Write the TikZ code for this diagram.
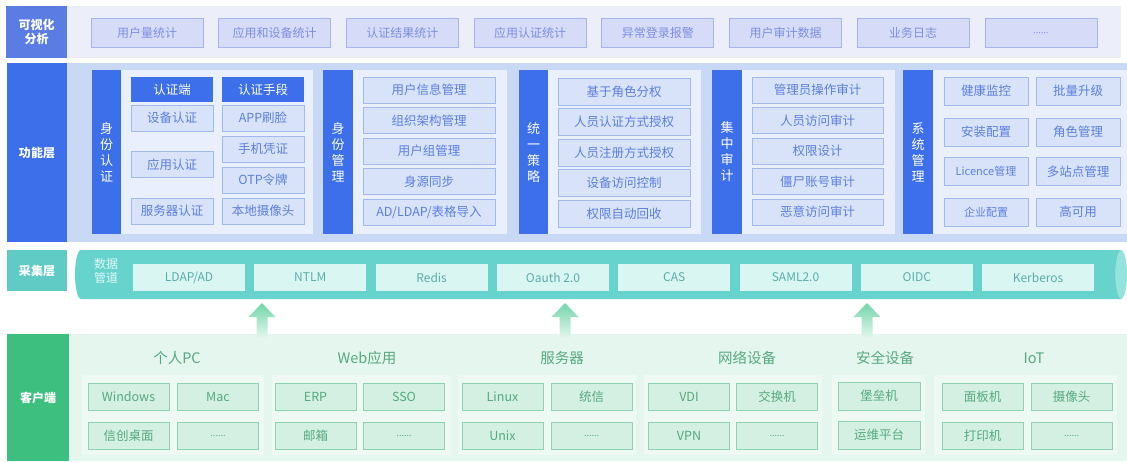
\documentclass[tikz,border=0pt]{standalone}
\usepackage{fontspec}
\setmainfont{Noto Sans CJK SC}
\definecolor{topbg}{HTML}{ECEEF9}
\definecolor{toplab}{HTML}{5B7CE3}
\definecolor{topfill}{HTML}{D6DCF8}
\definecolor{topline}{HTML}{AAB4EC}
\definecolor{toptext}{HTML}{7D8DE0}
\definecolor{fnband}{HTML}{C9D8F5}
\definecolor{fnblue}{HTML}{3D6FEA}
\definecolor{fnpanel}{HTML}{E9EFFC}
\definecolor{fnfill}{HTML}{D8E3FA}
\definecolor{fnline}{HTML}{A2B9EE}
\definecolor{fntext}{HTML}{5B7FDC}
\definecolor{colab}{HTML}{5FCBC4}
\definecolor{pipe}{HTML}{66D4CD}
\definecolor{pipecap}{HTML}{95E3DD}
\definecolor{pipefill}{HTML}{D9F6F3}
\definecolor{pipetext}{HTML}{5AAEA8}
\definecolor{pipelab}{HTML}{E2F8F6}
\definecolor{cllab}{HTML}{3CBF7F}
\definecolor{clband}{HTML}{E5F6EE}
\definecolor{clpanel}{HTML}{EEF9F4}
\definecolor{clfill}{HTML}{D4F0E2}
\definecolor{clline}{HTML}{8FD2B1}
\definecolor{cltext}{HTML}{55A97F}
\definecolor{arrowtop}{HTML}{72D6AA}
\tikzset{
  base/.style={inner sep=0pt, outer sep=0pt, align=center},
  sz/.style 2 args={minimum width=#1pt, minimum height=#2pt},
  lab/.style={base, text=white, font=\bfseries\fontsize{12}{14.5}\selectfont},
  topitem/.style={base, fill=topfill, draw=topline, line width=0.8pt, text=toptext,
    font=\fontsize{12}{14}\selectfont, sz={112}{29}},
  fnbar/.style={base, fill=fnblue, text=white, font=\fontsize{13}{16}\selectfont},
  fnpan/.style={base, fill=fnpanel},
  fnhdr/.style={base, fill=fnblue, text=white, font=\fontsize{12.5}{14}\selectfont},
  fnitem/.style={base, fill=fnfill, draw=fnline, line width=0.8pt, text=fntext,
    font=\fontsize{12.5}{14}\selectfont},
  pipeitem/.style={base, fill=pipefill, text=pipetext, font=\fontsize{12}{14}\selectfont, sz={112}{27}},
  clpan/.style={base, fill=clpanel},
  cltitle/.style={base, text=cltext, font=\fontsize{14.5}{16}\selectfont},
  clitem/.style={base, fill=clfill, draw=clline, line width=0.8pt, text=cltext,
    font=\fontsize{12.5}{14}\selectfont, sz={81}{27}},
}
\newcommand{\mydots}{{\fontsize{9}{10}\selectfont ......}}
\begin{document}
\begin{tikzpicture}[x=1pt,y=-1pt]
\useasboundingbox (0,0) rectangle (1127,461);
\fill[white] (0,0) rectangle (1127,461);

% ---------- top layer
\node[base, fill=topbg, sz={1054}{52}] (topband) at (594,32) {};
\node[lab, fill=toplab, sz={61}{52}] (toplabel) at (36.5,32) {可视化\\分析};
\foreach \t [count=\i] in {用户量统计,应用和设备统计,认证结果统计,应用认证统计,异常登录报警,用户审计数据,业务日志}
  \node[topitem] (t\i) at ({147+(\i-1)*127.7},33) {\t};
\node[topitem] (t8) at (1040.9,33) {\mydots};

% ---------- function layer
\node[base, fill=fnband, sz={1060}{179}] (fnband) at (597,152.5) {};
\node[lab, fill=fnblue, sz={60}{179}] (fnlabel) at (37,152.5) {功能层};

% group 1
\node[fnbar, sz={29}{164}] (g1bar) at (106.5,152) {身\\份\\认\\证};
\node[fnpan, sz={192}{164}] (g1pan) at (217,152) {};
\node[fnhdr, sz={82}{25}] (h1) at (172,89.5) {认证端};
\node[fnhdr, sz={82}{25}] (h2) at (263,89.5) {认证手段};
\node[fnitem, sz={82}{26}] (a1) at (172,118) {设备认证};
\node[fnitem, sz={82}{26}] (a2) at (172,164.5) {应用认证};
\node[fnitem, sz={82}{26}] (a3) at (172,211) {服务器认证};
\node[fnitem, sz={82}{26}] (b1) at (263,118) {APP刷脸};
\node[fnitem, sz={82}{26}] (b2) at (263,149) {手机凭证};
\node[fnitem, sz={82}{26}] (b3) at (263,180) {OTP令牌};
\node[fnitem, sz={82}{26}] (b4) at (263,211) {本地摄像头};

% group 2
\node[fnbar, sz={30}{164}] (g2bar) at (338,152) {身\\份\\管\\理};
\node[fnpan, sz={154}{164}] (g2pan) at (430,152) {};
\foreach \t [count=\i] in {用户信息管理,组织架构管理,用户组管理,身源同步,AD/LDAP/表格导入}
  \node[fnitem, sz={132}{26}] (m\i) at (429,{90+(\i-1)*30.5}) {\t};

% group 3
\node[fnbar, sz={29}{164}] (g3bar) at (533.5,152) {统\\一\\策\\略};
\node[fnpan, sz={153}{164}] (g3pan) at (624.5,152) {};
\foreach \t [count=\i] in {基于角色分权,人员认证方式授权,人员注册方式授权,设备访问控制,权限自动回收}
  \node[fnitem, sz={132}{27}] (p\i) at (624,{91.5+(\i-1)*30.5}) {\t};

% group 4
\node[fnbar, sz={30}{164}] (g4bar) at (727,152) {集\\中\\审\\计};
\node[fnpan, sz={153}{164}] (g4pan) at (818.5,152) {};
\foreach \t [count=\i] in {管理员操作审计,人员访问审计,权限设计,僵尸账号审计,恶意访问审计}
  \node[fnitem, sz={131}{26}] (s\i) at (817.5,{90+(\i-1)*30.5}) {\t};

% group 5
\node[fnbar, sz={30}{164}] (g5bar) at (918,152) {系\\统\\管\\理};
\node[fnpan, sz={194}{164}] (g5pan) at (1030,152) {};
\node[fnitem, sz={84}{28}] (y1) at (986,91) {健康监控};
\node[fnitem, sz={84}{28}] (y2) at (986,132) {安装配置};
\node[fnitem, sz={84}{28}, font=\fontsize{11}{13}\selectfont] (y3) at (986,171.5) {Licence管理};
\node[fnitem, sz={84}{28}, font=\fontsize{11}{13}\selectfont] (y4) at (986,212) {企业配置};
\node[fnitem, sz={84}{28}] (z1) at (1078,91) {批量升级};
\node[fnitem, sz={84}{28}] (z2) at (1078,132) {角色管理};
\node[fnitem, sz={84}{28}] (z3) at (1078,171.5) {多站点管理};
\node[fnitem, sz={84}{28}] (z4) at (1078,212) {高可用};

% ---------- collection layer
\node[lab, fill=colab, sz={60}{41}] (colabel) at (37,270.5) {采集层};
\fill[pipe] (1121,250) -- (81,250) arc[start angle=90, end angle=270, x radius=6pt, y radius=24.5pt] -- (1121,299) -- cycle;
\fill[pipecap] (1121,274.5) ellipse [x radius=6pt, y radius=24.5pt];
\draw[pipe!80!black, opacity=0.25, line width=0.6pt] (1121,250) arc[start angle=90, end angle=270, x radius=6pt, y radius=24.5pt];
\node[base, text=pipelab, font=\fontsize{12}{13.5}\selectfont] (pipelabel) at (106,271) {数据\\管道};
\foreach \t [count=\i] in {LDAP/AD,NTLM,Redis,Oauth 2.0,CAS,SAML2.0,OIDC,Kerberos}
  \node[pipeitem] (c\i) at ({189+(\i-1)*121.3},277.5) {\t};

% ---------- client layer
\node[base, fill=clband, sz={1058}{127}] (clband) at (598,397.5) {};
\node[lab, fill=cllab, sz={62}{127}] (cllabel) at (38,397.5) {客户端};

\node[clpan, sz={182}{80}] (pc) at (173,415) {};
\node[clpan, sz={179}{80}] (web) at (361.5,415) {};
\node[clpan, sz={178}{80}] (srv) at (547,415) {};
\node[clpan, sz={178}{80}] (net) at (733,415) {};
\node[clpan, sz={93}{80}] (sec) at (878.5,415) {};
\node[clpan, sz={183}{80}] (iot) at (1025.5,415) {};

\node[cltitle] (pct) at (177,358) {个人PC};
\node[cltitle] (webt) at (367,358) {Web应用};
\node[cltitle] (srvt) at (562,358) {服务器};
\node[cltitle] (nett) at (747,358) {网络设备};
\node[cltitle] (sect) at (885,358) {安全设备};
\node[cltitle] (iott) at (1034,358) {IoT};

\node[clitem] (k1) at (128.5,396.5) {Windows};
\node[clitem] (k2) at (218,396.5) {Mac};
\node[clitem] (k3) at (128.5,435.5) {信创桌面};
\node[clitem] (k4) at (218,435.5) {\mydots};
\node[clitem] (k5) at (315.5,396.5) {ERP};
\node[clitem] (k6) at (404,396.5) {SSO};
\node[clitem] (k7) at (315.5,435.5) {邮箱};
\node[clitem] (k8) at (404,435.5) {\mydots};
\node[clitem] (k9) at (502.5,396.5) {Linux};
\node[clitem] (k10) at (591.5,396.5) {统信};
\node[clitem] (k11) at (502.5,435.5) {Unix};
\node[clitem] (k12) at (591.5,435.5) {\mydots};
\node[clitem] (k13) at (689,396.5) {VDI};
\node[clitem] (k14) at (777,396.5) {交换机};
\node[clitem] (k15) at (689,435.5) {VPN};
\node[clitem] (k16) at (777,435.5) {\mydots};
\node[clitem, sz={82}{28}] (k17) at (879,396) {堡垒机};
\node[clitem, sz={82}{28}] (k18) at (879,435) {运维平台};
\node[clitem] (k19) at (982.5,396.5) {面板机};
\node[clitem] (k20) at (1071.5,396.5) {摄像头};
\node[clitem] (k21) at (982.5,435.5) {打印机};
\node[clitem] (k22) at (1071.5,435.5) {\mydots};

% ---------- up arrows
\foreach \x in {262,565,867}
  \shade[top color=arrowtop, bottom color=clband]
    (\x-5.5,338) -- (\x-5.5,317) -- (\x-13.5,317) -- (\x,303) -- (\x+13.5,317) -- (\x+5.5,317) -- (\x+5.5,338) -- cycle;
\end{tikzpicture}
\end{document}
